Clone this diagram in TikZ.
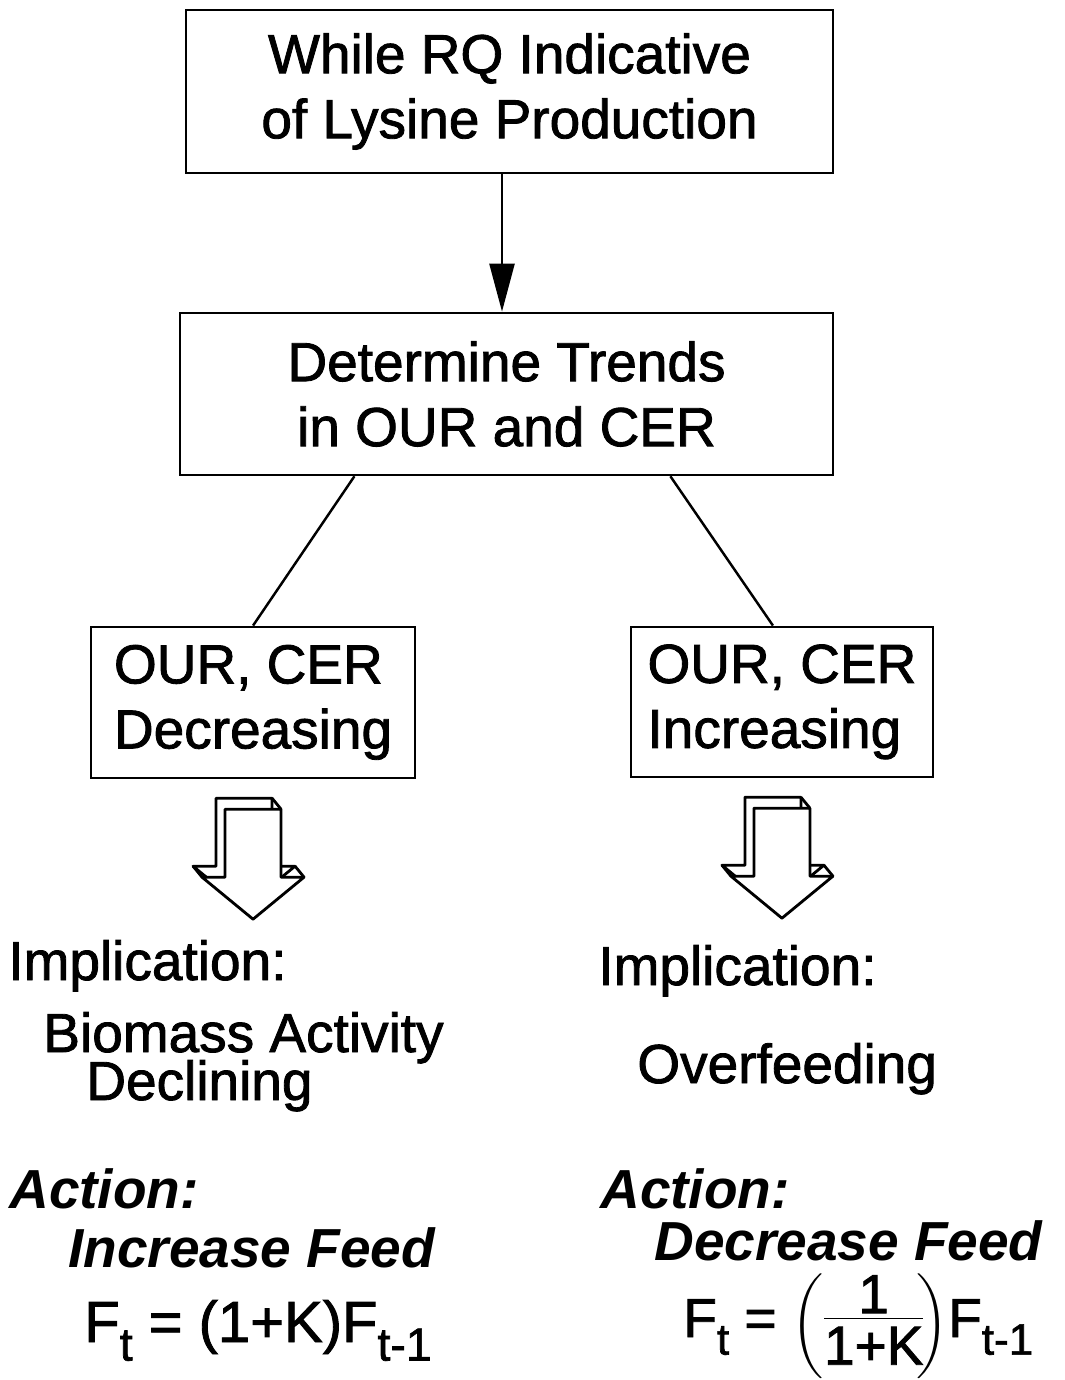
\documentclass[tikz,border=0pt]{standalone}
\usepackage{amsmath}
\usepackage{graphicx}
\usepackage{fontspec}
\setmainfont{Liberation Sans}
\usepackage{tikz}
\usetikzlibrary{arrows.meta,calc}

% lowered index, as the feed formulas print it
\newcommand{\lowsub}[1]{\raisebox{-0.32em}{\scalebox{0.8}{#1}}}
% stacked fraction with full size digits
\newcommand{\fracstack}[2]{{\renewcommand{\arraystretch}{0.62}%
  \begin{tabular}{@{}c@{}}#1\\[-4pt]\hline\rule{0pt}{26pt}#2\end{tabular}}}
% heavier strokes for all labels
\newcommand{\heavy}{\addfontfeatures{FakeBold=1.5}}

\begin{document}
\begin{tikzpicture}[x=0.02cm,y=-0.02cm,>={Triangle[length=0.96cm,width=0.5cm]}]
  \tikzstyle{every node}=[font=\fontsize{31.3}{37}\selectfont\heavy]
  \tikzstyle{box}=[rectangle,draw=black,line width=1.5pt,inner sep=0pt]
  \tikzstyle{txt}=[inner sep=0pt,anchor=base west]
  \tikzstyle{act}=[txt,font=\fontsize{31.3}{37}\selectfont\bfseries\itshape]
  \tikzstyle{wire}=[line width=1.4pt]
  \tikzstyle{hollow}=[line width=1.6pt,fill=white,line join=round]

  \useasboundingbox (0,0) rectangle (1065,1380);

  % boxes
  \node [box,minimum width=12.94cm,minimum height=3.26cm,align=center]
    (rq) at (509.5,91.5) {While RQ Indicative\\of Lysine Production};
  \node [box,minimum width=13.06cm,minimum height=3.24cm,align=center]
    (dt) [below of=rq,node distance=6.05cm,xshift=-0.06cm]
    {Determine Trends\\in OUR and CER};
  \node [box,minimum width=6.48cm,minimum height=3.02cm,align=left]
    (dec) [below of=dt,node distance=6.17cm,xshift=-5.07cm]
    {OUR, CER\\Decreasing};
  \node [box,minimum width=6.04cm,minimum height=3.0cm,align=left]
    (inc) [below of=dt,node distance=6.16cm,xshift=5.51cm]
    {OUR, CER\\Increasing};

  \draw [wire,->] ([xshift=-0.15cm]rq.south) -- ([xshift=-0.09cm]dt.north);
  \draw [wire] ($(dt.south west)!0.268!(dt.south east)$) -- (dec.north);
  \draw [wire] ($(dt.south west)!0.75!(dt.south east)$) -- ([xshift=-0.18cm]inc.north);

  % block arrows under the trend boxes
  \foreach \b in {dec,inc} {
    \begin{scope}[shift={(\b.south)}]
      \draw [hollow] (-37,19) -- (19,19) -- (19,87) -- (42,87) -- (-9,129)
        -- (-60,87) -- (-37,87) -- cycle;
      \draw [hollow] (-28,30) -- (28,30) -- (28,98) -- (51,98) -- (0,140)
        -- (-51,98) -- (-28,98) -- cycle;
      \draw [line width=1.6pt] (19,19) -- (28,30);
      \draw [line width=1.6pt] (42,87) -- (51,98);
      \draw [line width=1.6pt] (-60,87) -- (-51,98);
    \end{scope}
  }

  % left column
  \node [txt] (impl) at (8,980) {Implication:};
  \node [txt] (bio) at (43,1052) {Biomass Activity};
  \node [txt] (decl) at (86,1100) {Declining};
  \node [act] (actl) at (9,1208) {Action:};
  \node [act] (incf) at (68,1267) {Increase Feed};
  \node [txt,font=\fontsize{33}{39}\selectfont\heavy] (fl) at (84,1342)
    {F\lowsub{t} = (1+K)F\lowsub{t-1}};

  % right column
  \node [txt] (impr) at (598,985) {Implication:};
  \node [txt] (over) at (637,1083) {Overfeeding};
  \node [act] (actr) at (600,1208) {Action:};
  \node [act] (decf) at (654,1260) {Decrease Feed};
  \node [txt] (fr) at (683,1337)
    {F\lowsub{t} = $\left(\vcenter{\hbox{\fracstack{1}{1+K}}}\!\right)$F\lowsub{t-1}};
\end{tikzpicture}
\end{document}
